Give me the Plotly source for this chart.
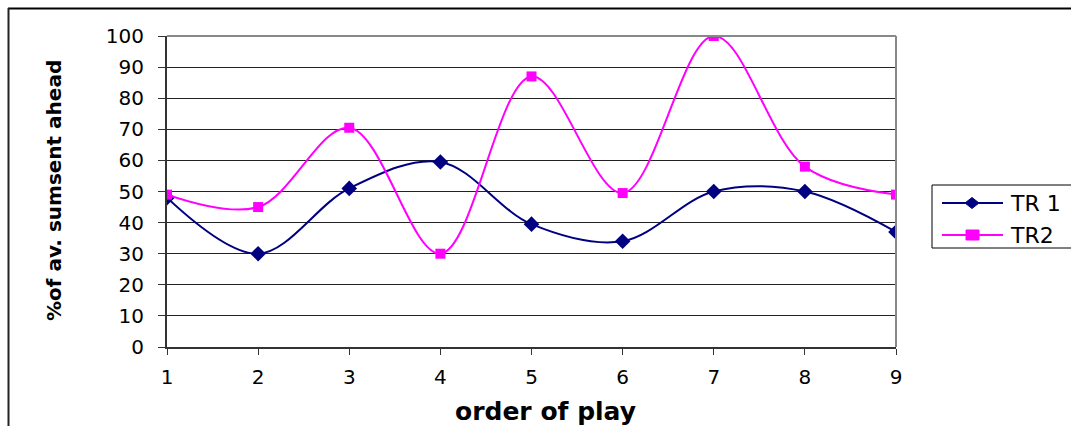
import plotly.graph_objects as go

# order of play and the two series (% of average sumsent ahead)
order = [1, 2, 3, 4, 5, 6, 7, 8, 9]
tr1 = [48, 30, 51, 59.5, 39.5, 34, 50, 50, 37]
tr2 = [49, 45, 70.5, 30, 87, 49.5, 100, 58, 49]
y_ticks = [0, 10, 20, 30, 40, 50, 60, 70, 80, 90, 100]
series_names = ["TR 1", "TR2"]
series_colors = ["#000080", "#FF00FF"]

W, H = 1071, 426
L, R, T, B = 167, 175, 36, 79
pw, ph = W - L - R, H - T - B


def px(xp):
    return (xp - L) / pw


def py(yp):
    return (H - B - yp) / ph


FONT = "DejaVu Sans, Verdana, sans-serif"

fig = go.Figure()
fig.add_trace(go.Scatter(
    x=order, y=tr1, name=series_names[0], mode="lines+markers",
    line=dict(color=series_colors[0], width=2, shape="spline", smoothing=1),
    marker=dict(symbol="diamond", size=12, color=series_colors[0]),
    showlegend=False,
))
fig.add_trace(go.Scatter(
    x=order, y=tr2, name=series_names[1], mode="lines+markers",
    line=dict(color=series_colors[1], width=2, shape="spline", smoothing=1),
    marker=dict(symbol="square", size=10, color=series_colors[1]),
    showlegend=False,
))

shapes = [
    # plot area top and right edges
    dict(type="line", xref="paper", yref="paper", x0=0, x1=1, y0=1, y1=1,
         line=dict(color="#888", width=2)),
    dict(type="line", xref="paper", yref="paper", x0=1, x1=1, y0=0, y1=1,
         line=dict(color="#888", width=2)),
    # outer chart frame
    dict(type="line", xref="paper", yref="paper",
         x0=px(8), x1=px(1080), y0=py(8.5), y1=py(8.5),
         line=dict(color="black", width=2)),
    dict(type="line", xref="paper", yref="paper",
         x0=px(8.5), x1=px(8.5), y0=py(8), y1=py(440),
         line=dict(color="#222", width=2)),
    # legend box
    dict(type="rect", xref="paper", yref="paper",
         x0=px(932), x1=px(1085), y0=py(185), y1=py(248),
         line=dict(color="black", width=1), fillcolor="white"),
]

annotations = [
    dict(text="<b>order of play</b>", xref="paper", yref="paper",
         x=px(545), y=py(411), xanchor="center", yanchor="middle",
         showarrow=False, font=dict(size=25)),
    dict(text="<b>%of av. sumsent ahead</b>", xref="paper", yref="paper",
         x=px(54), y=py(191), xanchor="center", yanchor="middle",
         textangle=-90, showarrow=False, font=dict(size=20)),
]

# legend entries: sample line, marker and label for each series
row_y = [203, 235]
for i, (name, col) in enumerate(zip(series_names, series_colors)):
    yy = row_y[i]
    shapes.append(dict(type="line", xref="paper", yref="paper",
                       x0=px(942), x1=px(1003), y0=py(yy), y1=py(yy),
                       line=dict(color=col, width=2)))
    if i == 0:
        path = (f"M {px(965)},{py(yy)} L {px(972)},{py(yy - 5.5)} "
                f"L {px(979)},{py(yy)} L {px(972)},{py(yy + 5.5)} Z")
    else:
        path = (f"M {px(966)},{py(yy - 5)} L {px(979)},{py(yy - 5)} "
                f"L {px(979)},{py(yy + 5)} L {px(966)},{py(yy + 5)} Z")
    shapes.append(dict(type="path", xref="paper", yref="paper", path=path,
                       fillcolor=col, line=dict(color=col, width=1)))
    annotations.append(dict(text=name, xref="paper", yref="paper",
                            x=px(1008), y=py(yy), xanchor="left",
                            yanchor="middle", showarrow=False,
                            font=dict(size=22)))

fig.update_layout(
    width=W, height=H,
    margin=dict(l=L, r=R, t=T, b=B, pad=0),
    paper_bgcolor="white", plot_bgcolor="white",
    font=dict(family=FONT, size=20, color="black"),
    showlegend=False,
    xaxis=dict(
        range=[1, 9], tickvals=order, ticks="outside", ticklen=6,
        tickcolor="#333", showgrid=False, zeroline=False,
        showline=True, linecolor="#333", linewidth=2,
        tickfont=dict(size=20), ticklabelstandoff=5,
    ),
    yaxis=dict(
        range=[0, 100], tickvals=y_ticks, ticks="outside", ticklen=7,
        tickcolor="#333", showgrid=True, gridcolor="#222", gridwidth=1,
        zeroline=False, showline=True, linecolor="#333", linewidth=2,
        tickfont=dict(size=20), ticklabelstandoff=10,
    ),
    annotations=annotations,
    shapes=shapes,
)

fig.write_html("out.html")
